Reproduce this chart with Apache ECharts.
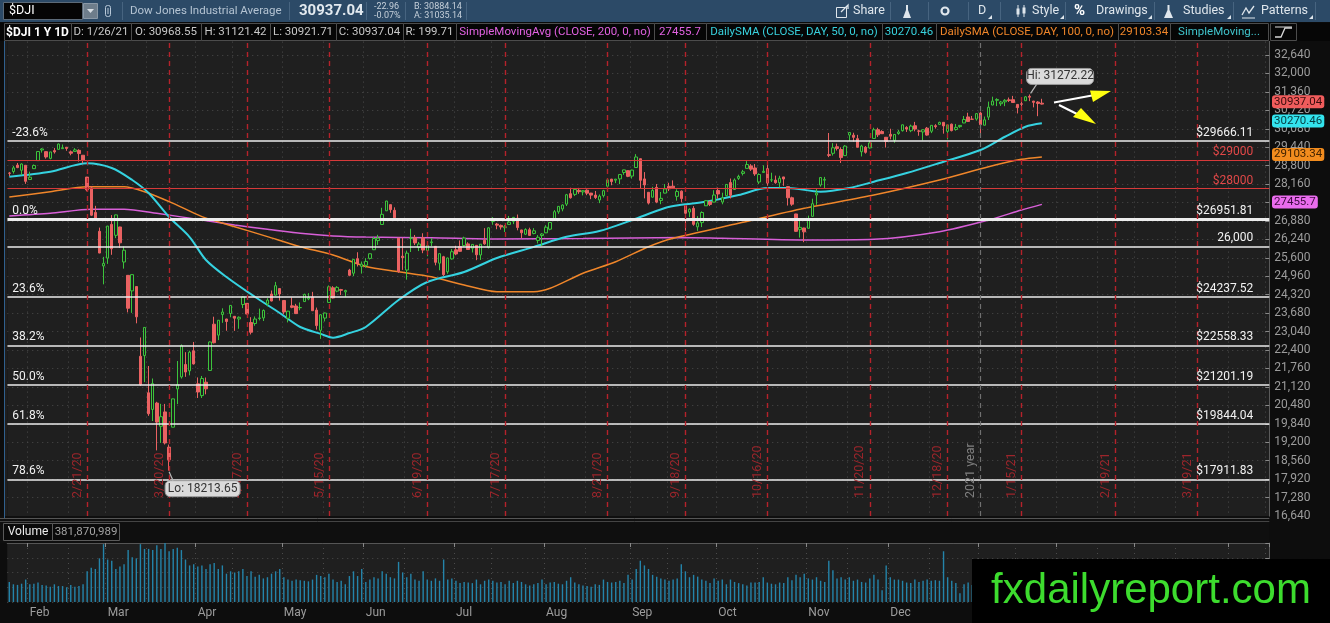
<!DOCTYPE html>
<html><head><meta charset="utf-8">
<script src="https://cdn.jsdelivr.net/npm/echarts@6.0.0/dist/echarts.min.js"></script>
<style>html,body{margin:0;padding:0;background:#0d0d0d;overflow:hidden}#c{width:1330px;height:623px}</style>
</head><body><div id="c"></div><script>
// ---------- DATA ----------
const firstDay = '2020-01-27';
const totalSlots = 308;
const holidays = ['2020-02-17','2020-04-10','2020-05-25','2020-07-03','2020-09-07','2020-11-26','2020-12-25','2021-01-01','2021-01-18','2021-02-15','2021-04-02'];
const monthNames = ['Jan','Feb','Mar','Apr','May','Jun','Jul','Aug','Sep','Oct','Nov','Dec'];

// daily candles [open, high, low, close], 2020-01-27 .. 2021-01-26
const candles = [
// Jan 2020
[28542,28582,28440,28536],[28597,28792,28526,28723],[28820,28893,28713,28734],[28640,28879,28470,28859],[28813,28820,28169,28256],
// Feb
[28319,28592,28310,28400],[28696,28841,28690,28808],[28975,29300,28970,29291],[29345,29409,29253,29380],[29287,29290,29044,29103],
[29054,29280,29021,29277],[29323,29415,29220,29276],[29366,29568,29360,29551],[29391,29535,29385,29423],[29440,29445,29316,29398],
[29279,29326,29161,29232],[29294,29409,29290,29348],[29332,29369,28943,29220],[29162,29170,28885,28992],[28403,28410,27909,27961],
[28028,28091,27050,27081],[27178,27406,26905,26958],[26522,26650,25762,25767],[25320,25634,24681,25409],
// Mar
[25590,26710,25391,26703],[26763,27084,25706,25917],[26383,27102,26286,27091],[26672,26680,25943,26121],[25457,25994,25226,25865],
[24993,25000,23707,23851],[24454,25030,23690,25018],[24604,24610,23328,23553],[22184,22837,21154,21201],[22208,23190,21285,23186],
[20917,21846,20116,20189],[20339,21413,19937,21237],[20560,20603,18917,19899],[19754,20534,19177,20087],[20253,20531,19122,19174],
[19029,19121,18213.65,18592],[19723,20710,19720,20705],[21051,22020,20524,21201],[21468,22596,21411,22552],[21898,22327,21470,21637],
[21678,22378,21522,22327],[22375,22681,21900,21917],
// Apr
[21227,21449,20736,20944],[20819,21501,20736,21413],[21285,21447,20863,21053],[21693,22703,21690,22680],[23297,23558,22630,22654],
[22918,23440,22744,23434],[23635,23849,23345,23719],[23478,23485,23070,23391],[23669,23960,23537,23950],[23571,23580,23066,23504],
[23479,23568,23139,23538],[23981,24264,23855,24242],[24021,24024,23642,23650],[23354,23541,22942,23019],[23322,23566,23243,23476],
[23495,23837,23431,23515],[23515,23809,23408,23775],[24001,24201,23918,24134],[24344,24466,24090,24102],[24307,24765,24293,24634],
[24534,24540,24117,24346],
// May
[24121,24130,23645,23724],[23505,23760,23360,23750],[23936,24227,23851,23883],[23929,24003,23650,23665],[23869,24052,23779,23876],
[24083,24358,24075,24331],[24175,24375,24130,24222],[24241,24421,23755,23765],[23787,23874,23111,23248],[23086,23638,22790,23625],
[23510,23700,23393,23685],[24053,24643,24045,24597],[24562,24618,24191,24207],[24445,24618,24406,24576],[24498,24524,24312,24474],
[24420,24495,24248,24465],[25175,25218,24963,24995],[25068,25560,24967,25548],[25573,25795,25300,25401],[25306,25473,25054,25383],
// Jun
[25343,25589,25259,25475],[25582,25750,25543,25743],[25882,26325,25870,26270],[26200,26400,26049,26282],[26757,27338,26750,27111],
[27233,27580,27225,27572],[27447,27455,27164,27272],[27251,27354,26966,26990],[26283,26290,25082,25128],[25659,26294,25181,25606],
[25178,25851,24843,25763],[26274,26611,25803,26290],[26295,26395,26044,26120],[25960,26152,25835,26080],[26296,26454,25763,25871],
[25851,26050,25656,26025],[26126,26289,26009,26156],[25999,26005,25340,25446],[25415,25750,25169,25746],[25639,25670,24972,25016],
[25116,25605,25047,25596],[25563,25905,25539,25813],
// Jul
[25879,26020,25691,25735],[25991,26205,25807,25827],[26025,26334,25989,26287],[26085,26142,25880,25890],[25935,26073,25786,26067],
[26033,26038,25520,25706],[25700,26080,25527,26075],[26209,26632,26055,26086],[25965,26659,25925,26643],[26867,27015,26749,26870],
[26773,26813,26594,26735],[26727,26757,26580,26672],[26647,26742,26497,26681],[26760,27054,26755,26840],[26868,27021,26772,27006],
[26975,27104,26556,26652],[26569,26575,26283,26470],[26421,26628,26391,26585],[26577,26647,26360,26379],[26447,26632,26418,26540],
[26203,26390,26101,26314],[26375,26459,26011,26428],
// Aug
[26469,26734,26460,26664],[26595,26835,26558,26828],[26932,27258,26925,27202],[27198,27395,27129,27387],[27298,27454,27215,27433],
[27465,27820,27400,27791],[27829,28034,27656,27687],[27803,27984,27745,27977],[27945,28029,27823,27897],[27890,27945,27768,27931],
[27949,27979,27776,27845],[27848,27855,27637,27778],[27779,27922,27645,27693],[27610,27800,27500,27740],[27759,27961,27695,27930],
[28087,28363,28080,28308],[28333,28340,28120,28248],[28297,28340,28195,28332],[28342,28503,28160,28492],[28563,28660,28483,28654],
[28627,28635,28402,28430],
// Sep
[28439,28659,28351,28646],[28736,29200,28730,29101],[29042,29050,27990,28293],[28341,28577,27665,28133],[27876,27885,27453,27501],
[27706,28065,27700,27940],[28047,28162,27498,27535],[27595,27887,27463,27666],[27848,28161,27840,27993],[28083,28206,27918,27996],
[28088,28289,28018,28032],[27735,27980,27584,27902],[27916,27941,27523,27657],[27405,27410,26538,27148],[27190,27319,27012,27288],
[27318,27397,26714,26763],[26676,27048,26537,26815],[26824,27215,26668,27174],[27407,27609,27400,27584],[27546,27588,27398,27453],
[27535,27948,27530,27782],
// Oct
[27941,28041,27656,27817],[27536,27861,27459,27683],[27758,28163,27734,28149],[28214,28354,27662,27773],[27972,28358,27965,28303],
[28359,28485,28304,28426],[28531,28653,28460,28587],[28707,28958,28700,28838],[28792,28853,28617,28680],[28720,28856,28447,28514],
[28234,28534,28161,28494],[28565,28812,28561,28606],[28695,28863,28103,28195],[28303,28555,28233,28309],[28299,28455,28172,28211],
[28207,28449,28045,28364],[28409,28412,28101,28336],[28076,28085,27416,27685],[27686,27724,27404,27463],[27124,27130,26505,26520],
[26580,26892,26304,26659],[26637,26645,26144,26502],
// Nov
[26626,27066,26620,26925],[27042,27654,27032,27480],[27781,28017,27441,27848],[28130,28395,28071,28390],[28296,28410,28004,28323],
[29181,29934,29096,29158],[29229,29581,29150,29421],[29457,29565,29327,29398],[29361,29438,28894,29080],[29149,29514,29140,29480],
[29863,29964,29662,29950],[29859,29944,29637,29783],[29737,29870,29430,29438],[29284,29526,29120,29483],[29440,29479,29219,29263],
[29417,29669,29389,29591],[29745,30117,29740,30046],[30049,30116,29796,29872],[29987,30031,29899,29910],[29786,29795,29430,29639],
// Dec
[29888,30082,29713,29824],[29679,29892,29595,29884],[29916,30043,29872,29970],[30014,30225,29984,30218],[30128,30170,29970,30070],
[30014,30225,29963,30174],[30186,30320,29993,30069],[30003,30045,29838,29999],[29971,30055,29676,30046],[30102,30143,29840,29862],
[29995,30205,29930,30200],[30187,30239,30087,30155],[30233,30326,30212,30303],[30305,30315,29911,30179],[29991,30225,29711,30216],
[30240,30261,29990,30016],[30057,30248,30013,30130],[30155,30209,30114,30199],[30283,30525,30275,30404],[30492,30637,30330,30336],
[30415,30526,30387,30410],[30418,30627,30364,30606],
// Jan 2021
[30627,30675,29882,30224],[30204,30505,30199,30392],[30486,31023,30385,30829],[30905,31194,30898,31041],[31069,31140,30867,31098],
[30950,31048,30874,31009],[31015,31110,30865,31069],[31085,31166,31010,31060],[31091,31223,30989,30992],[30926,30935,30613,30814],
[30947,31070,30852,30931],[31054,31214,31045,31188],[31206,31272.22,31040,31176],[31041,31049,30823,30997],[31008,31040,30518,30960],
[30968.55,31121.42,30921.71,30937.04]
];

// daily volume, millions
const volumes = [
340,300,290,310,380,
300,310,330,290,280,260,300,270,270,250,290,260,270,300,520,580,560,740,980,
720,700,560,600,640,880,760,740,980,900,900,880,960,900,1000,860,900,920,880,720,620,640,
600,620,560,640,660,560,620,480,520,500,520,560,440,520,430,460,400,420,480,520,560,
420,380,360,380,370,360,350,380,460,440,420,480,380,340,360,300,440,520,440,560,
340,380,420,400,520,480,420,400,680,500,420,480,380,360,520,380,360,400,360,720,380,400,
360,320,340,330,320,380,300,360,380,360,330,340,300,360,320,360,340,300,280,300,320,380,
300,330,340,310,300,360,420,330,300,280,270,260,300,290,380,340,330,340,360,320,460,
380,560,700,620,560,460,430,400,380,360,380,400,640,520,420,460,430,380,360,320,400,
360,380,300,380,340,320,300,280,330,330,340,420,330,310,300,330,320,420,370,460,420,480,
400,380,420,360,340,700,540,400,420,380,420,360,380,340,330,400,460,380,200,620,
420,380,380,360,330,320,380,340,360,380,360,370,360,860,420,360,320,150,300,330,290,300,
440,380,460,400,390,380,400,330,340,420,360,380,360,340,400,382
];

const sma50 = [['2020-01-27',28417],['2020-02-10',28590],['2020-02-24',28881],['2020-03-03',28718],['2020-03-10',28302],['2020-03-16',27850],['2020-03-23',27018],['2020-03-30',26323],['2020-04-03',25525],['2020-04-13',24935],['2020-04-22',24241],['2020-04-30',23686],['2020-05-07',23200],['2020-05-14',22960],['2020-05-19',22830],['2020-05-26',22990],['2020-06-01',23200],['2020-06-11',24137],['2020-06-22',24762],['2020-07-06',25109],['2020-07-16',25594],['2020-07-29',25980],['2020-08-10',26330],['2020-08-20',26532],['2020-09-01',26913],['2020-09-14',27330],['2020-09-18',27440],['2020-09-28',27549],['2020-10-08',27781],['2020-10-19',28024],['2020-10-26',28024],['2020-11-05',27896],['2020-11-16',28024],['2020-11-24',28243],['2020-12-07',28545],['2020-12-17',28892],['2021-01-04',29343],['2021-01-12',29804],['2021-01-20',30152],['2021-01-26',30270.46]];
const sma100 = [['2020-01-27',27712],['2020-02-10',27896],['2020-02-24',28070],['2020-03-06',28070],['2020-03-13',27896],['2020-03-24',27493],['2020-04-02',27030],['2020-04-15',26683],['2020-04-27',26337],['2020-05-07',25987],['2020-05-19',25700],['2020-06-01',25300],['2020-06-11',25119],['2020-06-23',24945],['2020-07-06',24657],['2020-07-16',24425],['2020-07-29',24425],['2020-08-04',24543],['2020-08-14',25064],['2020-08-26',25467],['2020-09-08',25987],['2020-09-16',26280],['2020-10-08',26800],['2020-10-30',27320],['2020-11-24',27781],['2020-12-17',28302],['2021-01-06',28763],['2021-01-19',29020],['2021-01-26',29103.34]];
const sma200 = [['2020-01-27',27052],['2020-02-10',27146],['2020-02-25',27285],['2020-03-06',27285],['2020-03-18',27146],['2020-04-02',26913],['2020-04-15',26740],['2020-04-27',26590],['2020-05-07',26451],['2020-05-19',26358],['2020-06-01',26320],['2020-06-23',26300],['2020-07-16',26254],['2020-08-14',26270],['2020-09-18',26310],['2020-10-02',26279],['2020-10-30',26219],['2020-11-24',26244],['2020-12-17',26507],['2021-01-06',26913],['2021-01-19',27260],['2021-01-26',27455.7]];

const fibLevels = [29666.11, 26951.81, 24237.52, 22558.33, 21201.19, 19844.04, 17911.83];
const fibNames = ['-23.6%','0.0%','23.6%','38.2%','50.0%','61.8%','78.6%'];
const redLevels = [29000, 28000];
const roundLevel = 26000;
const expiryLabels = ['2/21/20','3/20/20','4/17/20','5/15/20','6/19/20','7/17/20','8/21/20','9/18/20','10/16/20','11/20/20','12/18/20','1/15/21','2/19/21','3/19/21'];
const expiryLineDates = ['2020-02-24','2020-03-23','2020-04-20','2020-05-18','2020-06-22','2020-07-20','2020-08-24','2020-09-21','2020-10-19','2020-11-23','2020-12-21','2021-01-19','2021-02-22','2021-03-22'];
const yearLine = ['2021-01-04', '2021 year'];
const priceMin = 16640, priceMax = 33280, priceStep = 640;
const volMax = 1000, volStep = 250;

// ---------- BUILD ----------
function buildDays(start, count, hol) {
  const out = []; let t = Date.parse(start + 'T00:00:00Z');
  while (out.length < count) {
    const d = new Date(t), wd = d.getUTCDay(), iso = d.toISOString().slice(0, 10);
    if (wd !== 0 && wd !== 6 && hol.indexOf(iso) < 0) out.push(iso);
    t += 86400000;
  }
  return out;
}
const cats = buildDays(firstDay, totalSlots, holidays);
const monthStart = new Set(), gridIdx = new Set();
cats.forEach((d, i) => {
  if (i > 0 && d.slice(5, 7) !== cats[i - 1].slice(5, 7)) { monthStart.add(i); gridIdx.add(i); }
  if (i > 0 && +d.slice(8) >= 15 && +cats[i - 1].slice(8) < 15 && d.slice(5, 7) === cats[i - 1].slice(5, 7)) gridIdx.add(i);
});
const candleData = candles.map(r => [r[0], r[3], r[2], r[1]]);
const FONT = 'Roboto, "Open Sans", sans-serif';
const dotted = { color: '#4b4b4b', type: [1, 4], width: 1 };

const ml = [];
fibLevels.forEach((v, i) => {
  ml.push({ yAxis: v, lineStyle: { color: '#ececec', width: i === 1 ? 3 : 1.5, type: 'solid' },
    label: { formatter: '$' + v.toFixed(2), position: 'insideEndTop', color: '#f2f2f2', distance: [16, 2] } });
  ml.push({ yAxis: v, lineStyle: { color: 'rgba(0,0,0,0)', width: 0 },
    label: { formatter: fibNames[i], position: 'insideStartTop', color: '#f2f2f2', distance: [5, 2] } });
});
redLevels.forEach(v => ml.push({ yAxis: v, lineStyle: { color: '#d63a3a', width: 1.2, type: 'solid' },
  label: { formatter: '$' + v, position: 'insideEndTop', color: '#e24848', distance: [16, 2] } }));
ml.push({ yAxis: roundLevel, lineStyle: { color: '#ececec', width: 1.5, type: 'solid' },
  label: { formatter: roundLevel.toLocaleString('en-US'), position: 'insideEndTop', color: '#f2f2f2', distance: [16, 2] } });
expiryLineDates.forEach((d, i) => ml.push({ xAxis: d, lineStyle: { color: '#b5222b', width: 1.4, type: [5, 4] },
  label: { formatter: expiryLabels[i], position: 'insideStartTop', color: '#9c252b', distance: [18, 3], fontSize: 12.5 } }));
ml.push({ xAxis: yearLine[0], lineStyle: { color: '#707070', width: 1.2, type: [5, 4] },
  label: { formatter: yearLine[1], position: 'insideStartTop', color: '#808080', distance: [18, 3], fontSize: 12.5 } });

const chart = echarts.init(document.getElementById('c'), null, { renderer: 'canvas' });
const GL = 7.25, GW = 1262.05;
chart.setOption({
  animation: false,
  backgroundColor: '#0d0d0d',
  textStyle: { fontFamily: FONT },
  grid: [
    { left: GL, width: GW, top: 36.6, height: 479.4, show: true, backgroundColor: '#1f1f1f', borderWidth: 0 },
    { left: GL, width: GW, top: 543, height: 59, show: true, backgroundColor: '#1f1f1f', borderWidth: 0 }
  ],
  xAxis: [
    { type: 'category', gridIndex: 0, data: cats, axisLine: { show: false }, axisTick: { show: false }, axisLabel: { show: false },
      splitLine: { show: true, interval: (i) => gridIdx.has(i), lineStyle: dotted } },
    { type: 'category', gridIndex: 1, data: cats, axisLine: { show: false }, axisTick: { show: false },
      axisLabel: { interval: (i) => monthStart.has(i), formatter: (v) => monthNames[+v.slice(5, 7) - 1], color: '#9c9c9c', fontSize: 12, align: 'left', margin: 5, fontFamily: FONT },
      splitLine: { show: true, interval: (i) => gridIdx.has(i), lineStyle: dotted } },
    { type: 'category', gridIndex: 1, position: 'top', data: cats, axisLine: { show: true, lineStyle: { color: '#555' } },
      axisTick: { show: true, inside: true, length: 4, interval: (i) => monthStart.has(i), lineStyle: { color: '#888' } }, axisLabel: { show: false } }
  ],
  yAxis: [
    { type: 'value', gridIndex: 0, position: 'right', min: priceMin, max: priceMax, interval: priceStep,
      axisLine: { show: true, lineStyle: { color: '#5a5a5a' } }, axisTick: { show: true, inside: true, length: 4, lineStyle: { color: '#888' } },
      axisLabel: { color: '#9c9c9c', fontSize: 12, margin: 5, showMaxLabel: false, fontFamily: FONT },
      splitLine: { show: true, lineStyle: dotted } },
    { type: 'value', gridIndex: 1, position: 'right', min: 0, max: volMax, interval: volStep,
      axisLine: { show: true, lineStyle: { color: '#5a5a5a' } }, axisTick: { show: true, inside: true, length: 4, lineStyle: { color: '#888' } },
      axisLabel: { show: false }, splitLine: { show: true, lineStyle: dotted } }
  ],
  series: [
    { type: 'line', name: 'SMA200', xAxisIndex: 0, yAxisIndex: 0, data: sma200, showSymbol: false, smooth: 0.25,
      lineStyle: { color: '#d85fd8', width: 1.5 }, z: 2 },
    { type: 'line', name: 'SMA100', xAxisIndex: 0, yAxisIndex: 0, data: sma100, showSymbol: false, smooth: 0.25,
      lineStyle: { color: '#f0862a', width: 1.5 }, z: 2 },
    { type: 'line', name: 'SMA50', xAxisIndex: 0, yAxisIndex: 0, data: sma50, showSymbol: false, smooth: 0.3,
      lineStyle: { color: '#35d2e0', width: 2 }, z: 2 },
    { type: 'candlestick', name: '$DJI', xAxisIndex: 0, yAxisIndex: 0, data: candleData, barWidth: 3, z: 3,
      itemStyle: { color: '#1f1f1f', color0: '#ea6262', borderColor: '#3cc43c', borderColor0: '#ea6262', borderWidth: 1 },
      markLine: { silent: true, symbol: ['none', 'none'], animation: false, label: { fontSize: 12, fontFamily: FONT }, data: ml } },
    { type: 'bar', name: 'Volume', xAxisIndex: 1, yAxisIndex: 1, data: volumes, barWidth: 1.4, itemStyle: { color: '#2484aa' } }
  ]
});

// ---------- CHROME (toolbar, header rows, tags, notes) ----------
const g = [];
const Z = 50;
function rect(x, y, w, h, fill, stroke, r) { g.push({ type: 'rect', z: Z, silent: true, shape: { x, y, width: w, height: h, r: r || 0 }, style: { fill, stroke: stroke || null, lineWidth: 1 } }); }
function line(x1, y1, x2, y2, stroke, w) { g.push({ type: 'line', z: Z + 1, silent: true, shape: { x1, y1, x2, y2 }, style: { stroke, lineWidth: w || 1 } }); }
function text(x, y, t, fill, size, opt) { g.push({ type: 'text', z: Z + 2, silent: true, x, y, style: Object.assign({ text: t, fill, font: (size || 12) + 'px ' + FONT, verticalAlign: 'middle', align: 'left' }, opt || {}) }); }
function poly(points, fill, stroke) { g.push({ type: stroke ? 'polyline' : 'polygon', z: Z + 2, silent: true, shape: { points }, style: stroke ? { stroke, lineWidth: 1.3, fill: null } : { fill } }); }

// left strip + pane seams
rect(4.5, 41, GL - 4.5, 477, '#1f1f1f');
line(4.5, 41, 4.5, 518, '#30608e', 1);
rect(0, 516, 1269.3, 27, '#0f0f0f');
line(0, 518.5, 1269.3, 518.5, '#555'); line(0, 521.5, 1269.3, 521.5, '#444');
// volume header row
rect(3.5, 523.5, 49, 17, '#0a0a0a', '#5a5a5a'); text(28, 532, 'Volume', '#ececec', 12, { align: 'center' });
rect(52.5, 523.5, 67, 17, '#0a0a0a', '#5a5a5a'); text(86, 532, '381,870,989', '#a2a2a2', 11.5, { align: 'center' });

// toolbar
rect(0, 0, 1330, 22, '#2c4a67');
line(0, 22.5, 1330, 22.5, '#0a0a0a');
rect(3.5, 2.5, 79, 17, '#050505', '#5c6a78'); text(9, 11, '$DJI', '#ffffff', 12.5);
rect(83.5, 3.5, 14, 15, '#6e7d8b', '#8a98a6'); poly([[87, 9], [94, 9], [90.5, 13]], '#d8dee4');
rect(105.5, 5.5, 5, 11, null, '#b8c8d8', 2); line(108, 8, 108, 14, '#b8c8d8');
[122, 289, 366, 405, 466, 890, 928, 968, 1000, 1065, 1154, 1233, 1315].forEach(x => line(x + 0.5, 2, x + 0.5, 20, '#476480'));
text(130, 11, 'Dow Jones Industrial Average', '#b4c3d2', 11.5);
text(299, 11, '30937.04', '#e2e9ef', 15, { font: 'bold 15px ' + FONT });
text(374, 6.5, '-22.96', '#c6d0da', 9); text(374, 15.5, '-0.07%', '#c6d0da', 9);
text(414, 6.5, 'B: 30884.14', '#c6d0da', 9); text(414, 15.5, 'A: 31035.14', '#c6d0da', 9);
// toolbar right buttons
rect(836.5, 7.5, 10, 10, null, '#dfe6ec'); poly([[841, 12], [848, 5], [848, 9]], null, '#dfe6ec');
text(853, 11, 'Share', '#dfe6ec', 12.5);
poly([[903, 18], [911, 18], [908, 10], [908, 5], [906, 5], [906, 10]], '#dfe6ec');
g.push({ type: 'circle', z: Z + 2, silent: true, shape: { cx: 945, cy: 11, r: 3.5 }, style: { fill: null, stroke: '#dfe6ec', lineWidth: 2.2 } });
text(978, 11, 'D', '#dfe6ec', 12.5);
line(1018, 5, 1018, 17, '#dfe6ec'); rect(1016.5, 8.5, 3, 6, '#dfe6ec'); line(1024, 5, 1024, 17, '#dfe6ec'); rect(1022.5, 7.5, 3, 6, '#dfe6ec');
text(1032, 11, 'Style', '#dfe6ec', 12.5);
text(1074, 11, '%', '#ffffff', 15, { font: 'bold 15px ' + FONT });
text(1096, 11, 'Drawings', '#dfe6ec', 12.5);
poly([[1164, 18], [1173, 18], [1169.5, 10], [1169.5, 5], [1167.5, 5], [1167.5, 10]], '#dfe6ec');
text(1183, 11, 'Studies', '#dfe6ec', 12.5);
poly([[1242, 15], [1246, 8], [1249, 13], [1254, 6]], null, '#dfe6ec'); line(1242, 18, 1255, 18, '#dfe6ec');
text(1261, 11, 'Patterns', '#dfe6ec', 12.5);
[988, 1060, 1148, 1227, 1309].forEach(x => poly([[x, 19], [x + 4, 19], [x + 4, 15]], '#dfe6ec'));

// study header row
rect(0, 23, 1330, 18, '#060606');
const headerItems = [
  [4, 71, '$DJI 1 Y 1D', '#ffffff', true], [71, 131, 'D: 1/26/21', '#c8c8c8'], [131, 201, 'O: 30968.55', '#c8c8c8'],
  [201, 270, 'H: 31121.42', '#c8c8c8'], [270, 336, 'L: 30921.71', '#c8c8c8'], [336, 403, 'C: 30937.04', '#c8c8c8'],
  [403, 456, 'R: 199.71', '#c8c8c8'], [456, 654, 'SimpleMovingAvg (CLOSE, 200, 0, no)', '#e262e2'], [654, 706, '27455.7', '#e262e2'],
  [706, 882, 'DailySMA (CLOSE, DAY, 50, 0, no)', '#38d0dc'], [882, 936, '30270.46', '#38d0dc'],
  [936, 1118, 'DailySMA (CLOSE, DAY, 100, 0, no)', '#f0862a'], [1118, 1170, '29103.34', '#f0862a'],
  [1170, 1268, 'SimpleMoving...', '#40c4cc']
];
headerItems.forEach(h => {
  rect(h[0] + 0.5, 23.5, h[1] - h[0], 17, '#060606', '#4c4c4c');
  text((h[0] + h[1]) / 2, 32.5, h[2], h[3], h[4] ? 12 : 11.5, h[4] ? { align: 'center', font: 'bold 12px ' + FONT } : { align: 'center' });
});
rect(1270.5, 23.5, 26, 17, '#060606', '#4c4c4c');
poly([[1275, 37], [1281, 37], [1285, 28], [1292, 28]], null, '#d8d8d8'); line(1275, 27, 1292, 27, '#d8d8d8');

// watermark
rect(972, 559, 358, 64, '#000000');
text(1151, 591, 'fxdailyreport.com', '#3ddc2e', 42, { align: 'center', font: '42px "Liberation Sans", Arial, sans-serif' });

// arrows
line(1054, 102.5, 1092, 95.5, '#ffffff', 2); poly([[1090, 90.5], [1093, 102], [1111, 91]], '#ffff10');
line(1059, 105, 1077, 114, '#ffffff', 2); poly([[1073, 117], [1081, 108], [1096, 124]], '#ffff10');

// data-bound notes
const px = (i, v) => chart.convertToPixel({ gridIndex: 0 }, [i, v]);
let hiI = 0, loI = 0;
candles.forEach((r, i) => { if (r[1] > candles[hiI][1]) hiI = i; if (r[2] < candles[loI][2]) loI = i; });
const hp = px(hiI, candles[hiI][1]), lp = px(loI, candles[loI][2]);
line(hp[0] + 7, hp[1] - 10, hp[0] + 1, hp[1] - 1, '#b8b8b8', 1.2);
rect(hp[0] - 3, hp[1] - 26, 67, 16, '#dadada', '#9a9a9a', 5);
text(hp[0] + 30.5, hp[1] - 18, 'Hi: ' + candles[hiI][1].toFixed(2), '#333', 12, { align: 'center' });
line(lp[0], lp[1] + 1, lp[0] + 4, lp[1] + 10, '#b8b8b8', 1.2);
rect(lp[0] - 4, lp[1] + 10, 75, 16, '#dadada', '#9a9a9a', 5);
text(lp[0] + 33.5, lp[1] + 18, 'Lo: ' + candles[loI][2].toFixed(2), '#333', 12, { align: 'center' });

// right price tags
const tags = [
  [candles[candles.length - 1][3].toFixed(2), candles[candles.length - 1][3], '#f05c5c', '#3a0d0d'],
  [sma50[sma50.length - 1][1].toFixed(2), sma50[sma50.length - 1][1], '#33e4ee', '#063c40'],
  [sma100[sma100.length - 1][1].toFixed(2), sma100[sma100.length - 1][1], '#f28c1e', '#402200'],
  [String(sma200[sma200.length - 1][1]), sma200[sma200.length - 1][1], '#ea6cee', '#3e0c40']
];
tags.forEach(t => {
  const y = px(0, t[1])[1] - 2.4;
  g.push({ type: 'text', z: Z + 5, silent: true, x: 1272, y, style: { text: t[0], fill: t[3], font: '11.5px ' + FONT, verticalAlign: 'middle', align: 'left', backgroundColor: t[2], padding: [1, 2, 0, 2], borderRadius: 3 } });
});

chart.setOption({ graphic: g });
</script></body></html>
